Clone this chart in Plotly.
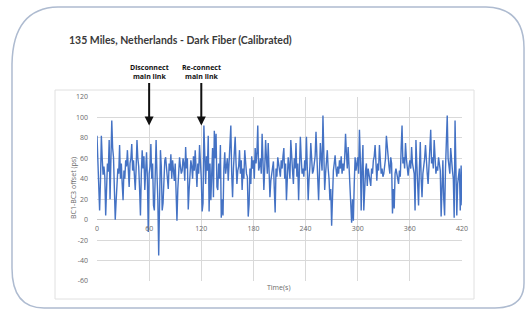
import plotly.graph_objects as go

# ---------------- data ----------------
title_text = "135 Miles, Netherlands - Dark Fiber (Calibrated)"
x_title = "Time(s)"
y_title = "BC1-BC3 offset (ps)"
event_times = [60, 120]
event_tip_values = [92, 92]
event_labels = ["Disconnect<br>main link", "Re-connect<br>main link"]

offset_ps = [
    82, 55, 29, 9, 38, 82, 60, 44, 52, 42, 4, 30, 55, 47, 78, 20, 62, 97, 70, 61,
    30, 0, 18, 32, 50, 45, 73, 40, 55, 35, 19, 48, 40, 58, 52, 68, 45, 32, 55, 60,
    74, 48, 58, 38, 29, 50, 78, 60, 52, 30, 4, 45, 68, 50, 62, 29, 48, 66, 40, -12,
    45, 52, 74, 40, 55, 14, 9, 60, 78, 45, 20, -35, 40, 68, 52, 9, 16, 45, 58, 61,
    50, 47, 30, 55, 48, 64, 40, 58, 50, 38, 55, 20, -1, 30, 48, 61, 52, 45, 48, 60,
    55, 38, 71, 50, 60, 10, 29, 45, 58, 52, 40, 62, 48, 68, 50, 32, 55, 45, 73, 58,
    40, 8, 16, 92, 50, 35, 62, 48, 82, 8, 55, 19, 45, 70, 22, 87, 60, 84, 32, 29,
    55, 40, 73, 2, 20, 4, 50, 66, 45, 58, 60, 38, 55, 70, 92, 45, 22, 50, 62, 81,
    55, 35, 48, 52, 68, 45, 58, 29, 50, 40, 68, 55, 45, 42, 3, 15, 50, 35, 62, 50,
    58, 40, 70, 55, 65, 92, 48, 52, 60, 45, 84, 58, 29, 50, 78, 60, 45, 75, 50, 22,
    38, 45, 55, 57, 30, 7, 50, 42, 61, 55, 48, 42, 58, 50, 62, 70, 40, 55, 19, 45,
    61, 52, 40, 78, 55, 48, 35, 60, 50, 75, 42, 55, 19, 48, 81, 60, 45, 50, 42, 58,
    48, 81, 55, 19, 40, 52, 75, 60, 45, 48, 55, 62, 86, 50, 40, 19, 52, 75, 60, 48,
    102, 65, 29, 45, 55, 68, 50, 40, 19, 30, -6, 25, 48, 55, 63, 50, 42, 52, 45, 58,
    50, 62, 45, 55, 48, 60, 84, 65, 50, 71, 55, 30, 17, -3, 20, -1, 35, 61, 48, 55,
    61, 45, 88, 60, 9, 52, 73, 9, 40, 48, 55, 33, 50, 45, 38, 33, 50, 45, 58, 62,
    73, 50, 38, 55, 48, 73, 60, 45, 50, 42, 45, 52, 60, 82, 70, 58, 52, 45, 61, 55,
    6, 30, 11, 45, 50, 45, 40, 35, 48, 42, 70, 92, 55, 61, 50, 75, 60, 48, 43, 52,
    58, 50, 71, 55, 50, 45, 9, 78, 55, 30, 14, 50, 76, 40, 22, 45, 52, 60, 73, 50,
    45, 35, 60, 70, 88, 55, 61, 50, 78, 60, 45, 52, 48, 61, 55, 48, 3, 30, 58, 20,
    4, 50, 70, 102, 60, 52, 45, 70, 55, 48, 40, 2, 97, 30, 4, 35, 47, 50, 9, 53,
    14,
]
time_s = list(range(len(offset_ps)))

x_ticks = [0, 60, 120, 180, 240, 300, 360, 420]
y_ticks = [-60, -40, -20, 0, 20, 40, 60, 80, 100, 120]

# ---------------- layout geometry (pixels) ----------------
W, H = 526, 309
L, R, T, B = 97, 462, 97, 281  # plot area in pixels


def px(x):
    return (x - L) / (R - L)


def py(y):
    return (B - y) / (B - T)


def pt(x, y):
    return f"{px(x):.4f},{py(y):.4f}"


GRID = "#d9d9d9"
TICK = "#6a6a6a"
FONT = "Open Sans, Liberation Sans, sans-serif"

fig = go.Figure()
fig.add_trace(go.Scatter(
    x=time_s, y=offset_ps, mode="lines",
    line=dict(color="#4472C4", width=1.4),
    hoverinfo="skip", showlegend=False,
))

zero_pos = (0 - (-60)) / (120 - (-60))

fig.update_layout(
    width=W, height=H,
    margin=dict(l=L, r=W - R, t=T, b=H - B, autoexpand=False),
    paper_bgcolor="white", plot_bgcolor="white",
    showlegend=False,
    xaxis=dict(
        range=[0, 420], tickvals=x_ticks, ticktext=[str(v) for v in x_ticks],
        showgrid=True, gridcolor=GRID, gridwidth=1,
        zeroline=False, showline=False, ticks="",
        anchor="free", position=zero_pos,
        tickfont=dict(family=FONT, size=7, color=TICK),
        ticklabelstandoff=3,
        automargin=False,
    ),
    yaxis=dict(
        range=[-60, 120], tickvals=y_ticks, ticktext=[str(v) for v in y_ticks],
        showgrid=True, gridcolor=GRID, gridwidth=1,
        zeroline=True, zerolinecolor="#c8c8c8", zerolinewidth=1,
        showline=False, ticks="",
        tickfont=dict(family=FONT, size=7, color=TICK),
        ticklabelstandoff=8,
        automargin=False,
    ),
)

# outer rounded frame + inner chart box
frame_path = (
    f"M {pt(58, 7)} L {pt(486, 7)} Q {pt(524, 8)} {pt(524, 48)} "
    f"L {pt(524, 283)} Q {pt(524, 308)} {pt(495, 308)} "
    f"L {pt(44, 308)} Q {pt(12, 308)} {pt(12, 268)} "
    f"L {pt(12, 64)} Q {pt(13, 8)} {pt(58, 7)}"
)
fig.add_shape(type="path", xref="paper", yref="paper", path=frame_path,
              line=dict(color="#aebbd0", width=1.5), layer="below")
fig.add_shape(type="rect", xref="paper", yref="paper",
              x0=px(55), x1=px(474), y0=py(299), y1=py(90),
              line=dict(color="#e0e0e0", width=1), layer="below")

# title
fig.add_annotation(
    text=title_text, xref="paper", yref="paper", x=px(67), y=py(40),
    xanchor="left", yanchor="middle", showarrow=False,
    font=dict(family="Lato, Open Sans, sans-serif", size=10.5, color="#3a3a3a", weight="bold"),
)

# axis titles
fig.add_annotation(
    text=y_title, xref="paper", yref="paper", x=px(73), y=py(188),
    textangle=-90, showarrow=False, xanchor="center", yanchor="middle",
    font=dict(family=FONT, size=7, color=TICK),
)
fig.add_annotation(
    text=x_title, xref="paper", yref="paper", x=px(279), y=py(287),
    showarrow=False, xanchor="center", yanchor="middle",
    font=dict(family=FONT, size=7, color=TICK),
)

# event arrows + labels
for t, v, lab in zip(event_times, event_tip_values, event_labels):
    fig.add_annotation(
        x=t, y=v, xref="x", yref="y", text="", showarrow=True,
        ax=0, ay=-44, axref="pixel", ayref="pixel",
        arrowhead=2, arrowsize=0.9, arrowwidth=2, arrowcolor="#111111",
    )
    fig.add_annotation(
        x=t, y=py(72), xref="x", yref="paper", text="<b>" + lab + "</b>",
        showarrow=False, xanchor="center", yanchor="middle",
        font=dict(family=FONT, size=7, color="#111111"),
        align="center",
    )

fig.write_html(
    "out.html",
    config={"displayModeBar": False, "staticPlot": True},
    post_script="document.body.style.margin='0';document.body.style.overflow='hidden';",
)
